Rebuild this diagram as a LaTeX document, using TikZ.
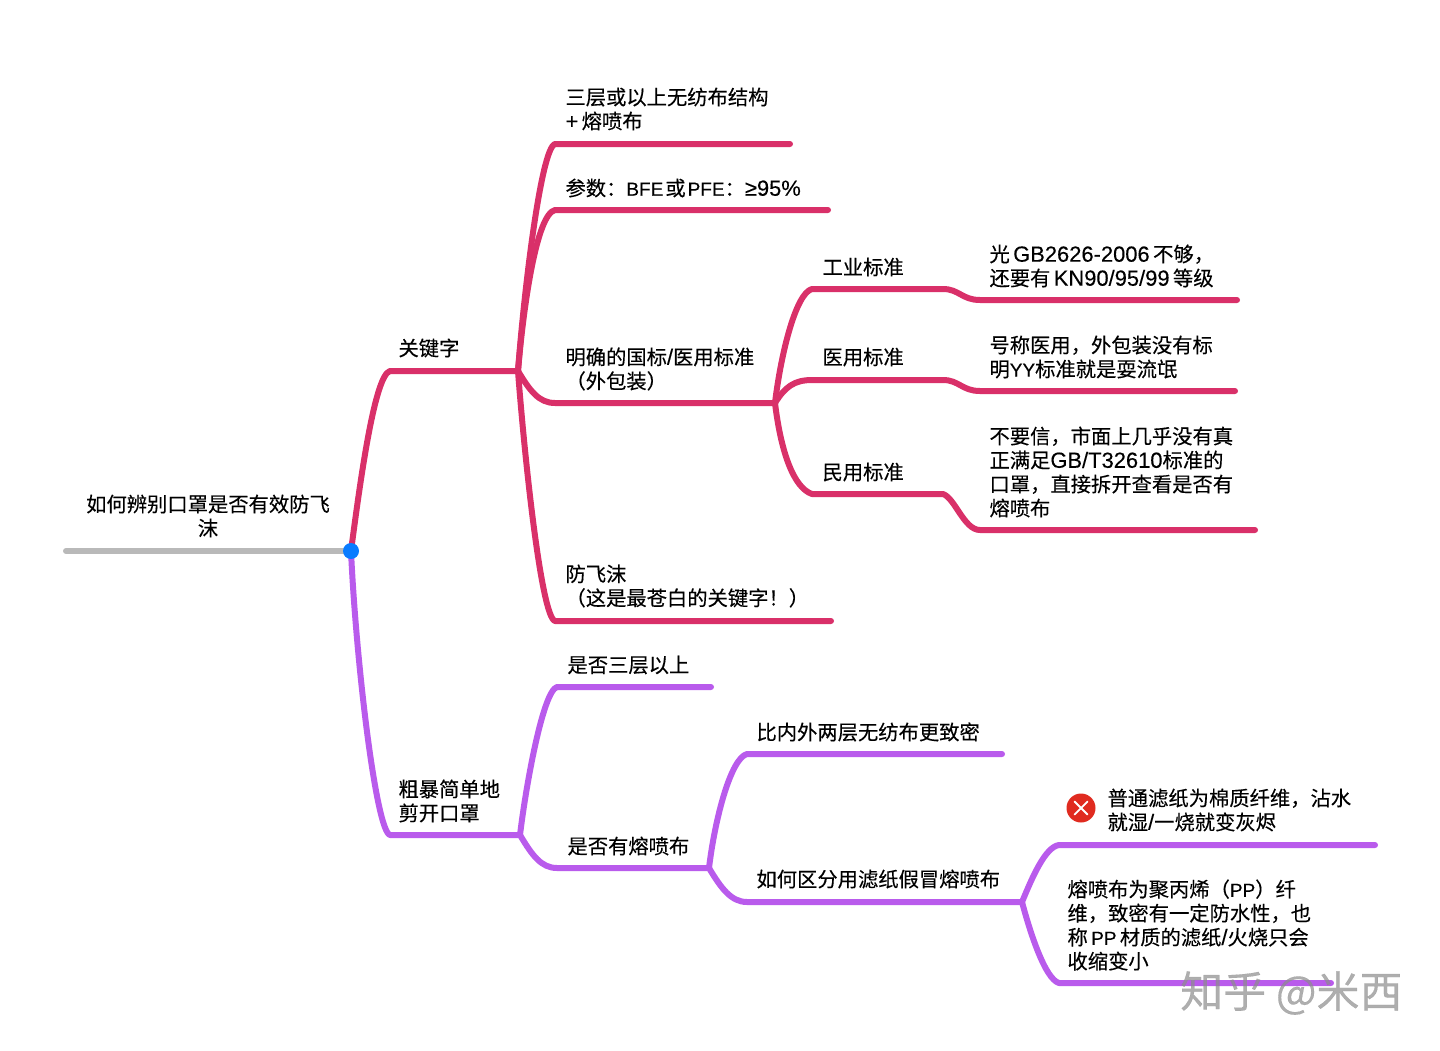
\documentclass[tikz,border=0pt]{standalone}
\usepackage{fontspec}
\setmainfont{Noto Sans CJK SC}[FakeBold=0.25]
\newfontfamily\latinfont{Liberation Sans}[Scale=1.08,FakeBold=0.25]
\newcommand{\lat}[1]{{\latinfont #1}}
\newcommand{\latcaps}[1]{{\latinfont\fontsize{17.6}{24}\selectfont #1}}
\definecolor{keyred}{HTML}{D93069}
\definecolor{cutpurple}{HTML}{B95BEC}
\definecolor{rootgray}{HTML}{B9B9B9}
\definecolor{rootblue}{HTML}{0A7CFF}
\definecolor{crossred}{HTML}{E02B20}
\begin{document}
\begin{tikzpicture}[
        x=1pt, y=-1pt,
        line cap=round, line join=round,
        label/.style={anchor=west, align=left, inner sep=0pt, xshift=-0.7pt, font=\fontsize{20.3}{24}\selectfont},
        redline/.style={draw=keyred, line width=6pt},
        purpleline/.style={draw=cutpurple, line width=6pt},
        rootline/.style={draw=rootgray, line width=6pt},
        dot/.style={circle, fill=rootblue, inner sep=0pt, minimum size=16pt},
        crossmark/.style={circle, fill=crossred, inner sep=0pt, minimum size=29pt},
        watermark/.style={anchor=west, inner sep=0pt, text=black!45, text opacity=0.7, font=\fontsize{43}{48}\selectfont}
    ]
        \useasboundingbox (0,0) rectangle (1440,1050);

        \node[label, align=center, anchor=center] (title) at (208.7,516) {如何辨别口罩是否有效防飞\\沫};
        \node[label] (keyword) at (399,348) {关键字};
        \node[label] (layers) at (566,109) {三层或以上无纺布结构\\\lat{+}\,熔喷布};
        \node[label] (param) at (566,188) {参数：\latcaps{BFE}\kern2pt 或\kern2pt\latcaps{PFE}：\lat{≥95\%}};
        \node[label] (standard) at (566,369) {明确的国标\lat{/}医用标准\\（外包装）};
        \node[label] (droplet) at (566,586) {防飞沫\\（这是最苍白的关键字！）};
        \node[label] (industry) at (823,267) {工业标准};
        \node[label] (medical) at (823,357) {医用标准};
        \node[label] (civil) at (823,472) {民用标准};
        \node[label] (industrynote) at (990,266) {光\,\lat{GB2626-2006}\,不够，\\还要有\,\lat{KN90/95/99}\,等级};
        \node[label] (medicalnote) at (990,357) {号称医用，外包装没有标\\明\latcaps{YY}标准就是耍流氓};
        \node[label] (civilnote) at (990,472) {不要信，市面上几乎没有真\\正满足\lat{GB/T32610}标准的\\口罩，直接拆开查看是否有\\熔喷布};
        \node[label] (cut) at (399,801) {粗暴简单地\\剪开口罩};
        \node[label] (three) at (568,665) {是否三层以上};
        \node[label] (melt) at (568,846) {是否有熔喷布};
        \node[label] (denser) at (757,732) {比内外两层无纺布更致密};
        \node[label] (fake) at (757,879) {如何区分用滤纸假冒熔喷布};
        \node[label] (paper) at (1108,810) {普通滤纸为棉质纤维，沾水\\就湿\lat{/}一烧就变灰烬};
        \node[label] (pp) at (1068,925) {熔喷布为聚丙烯（\latcaps{PP}）纤\\维，致密有一定防水性，也\\称\,\latcaps{PP}\,材质的滤纸\lat{/}火烧只会\\收缩变小};

        \coordinate (rootstart) at (66,551);
        \coordinate (root) at (351,551);
        \coordinate (keyup) at (390,371);
        \coordinate (keyjoin) at (518,371);
        \coordinate (layersup) at (555,144);
        \coordinate (layersend) at (790,144);
        \coordinate (paramup) at (555,210);
        \coordinate (paramend) at (828,210);
        \coordinate (standardup) at (555,403);
        \coordinate (standardjoin) at (775,403);
        \coordinate (dropletup) at (555,621);
        \coordinate (dropletend) at (831,621);
        \coordinate (industryup) at (812,289);
        \coordinate (industrymid) at (943,289);
        \coordinate (industrylow) at (980,300);
        \coordinate (industryend) at (1237,300);
        \coordinate (medicalup) at (812,380);
        \coordinate (medicalmid) at (943,380);
        \coordinate (medicallow) at (980,391);
        \coordinate (medicalend) at (1235,391);
        \coordinate (civilup) at (812,494);
        \coordinate (civilmid) at (943,494);
        \coordinate (civillow) at (980,530);
        \coordinate (civilend) at (1255,530);
        \coordinate (cutup) at (390,835);
        \coordinate (cutjoin) at (520,835);
        \coordinate (threeup) at (557,687);
        \coordinate (threeend) at (711,687);
        \coordinate (meltup) at (557,868);
        \coordinate (meltjoin) at (709,868);
        \coordinate (denserup) at (747,754);
        \coordinate (denserend) at (1002,754);
        \coordinate (fakeup) at (747,902);
        \coordinate (fakejoin) at (1022,902);
        \coordinate (paperup) at (1059,845);
        \coordinate (paperend) at (1375,845);
        \coordinate (ppup) at (1059,983);
        \coordinate (ppend) at (1331,983);

        \draw[rootline] (rootstart) -- (root);

        \draw[redline] (root) .. controls +(8,-60) and +(-16,4) .. (keyup) -- (keyjoin);
        \draw[redline] (keyjoin) .. controls +(6,-80) and +(-14,4) .. (layersup) -- (layersend);
        \draw[redline] (keyjoin) .. controls +(6,-70) and +(-18,4) .. (paramup) -- (paramend);
        \draw[redline] (keyjoin) .. controls +(12,20) and +(-16,0) .. (standardup) -- (standardjoin);
        \draw[redline] (keyjoin) .. controls +(6,80) and +(-14,-4) .. (dropletup) -- (dropletend);
        \draw[redline] (standardjoin) .. controls +(6,-50) and +(-16,4) .. (industryup) -- (industrymid) .. controls +(16,0) and +(-18,0) .. (industrylow) -- (industryend);
        \draw[redline] (standardjoin) .. controls +(10,-16) and +(-18,0) .. (medicalup) -- (medicalmid) .. controls +(16,0) and +(-18,0) .. (medicallow) -- (medicalend);
        \draw[redline] (standardjoin) .. controls +(6,50) and +(-18,-6) .. (civilup) -- (civilmid) .. controls +(12,4) and +(-16,0) .. (civillow) -- (civilend);

        \draw[purpleline] (root) .. controls +(5,110) and +(-14,-4) .. (cutup) -- (cutjoin);
        \draw[purpleline] (cutjoin) .. controls +(6,-50) and +(-14,4) .. (threeup) -- (threeend);
        \draw[purpleline] (cutjoin) .. controls +(12,20) and +(-16,0) .. (meltup) -- (meltjoin);
        \draw[purpleline] (meltjoin) .. controls +(6,-50) and +(-16,4) .. (denserup) -- (denserend);
        \draw[purpleline] (meltjoin) .. controls +(12,20) and +(-16,0) .. (fakeup) -- (fakejoin);
        \draw[purpleline] (fakejoin) .. controls +(10,-24) and +(-14,2) .. (paperup) -- (paperend);
        \draw[purpleline] (fakejoin) .. controls +(8,30) and +(-14,-4) .. (ppup) -- (ppend);

        \node[dot] (rootdot) at (root) {};
        \node[crossmark] (cross) at (1081,808) {};
        \draw[white, line width=1.8pt, shorten >=5.5pt, shorten <=5.5pt] (cross.45) -- (cross.225);
        \draw[white, line width=1.8pt, shorten >=5.5pt, shorten <=5.5pt] (cross.135) -- (cross.315);

        \node[watermark] (mark) at (1180,993) {知乎 @米西};
    \end{tikzpicture}
\end{document}
